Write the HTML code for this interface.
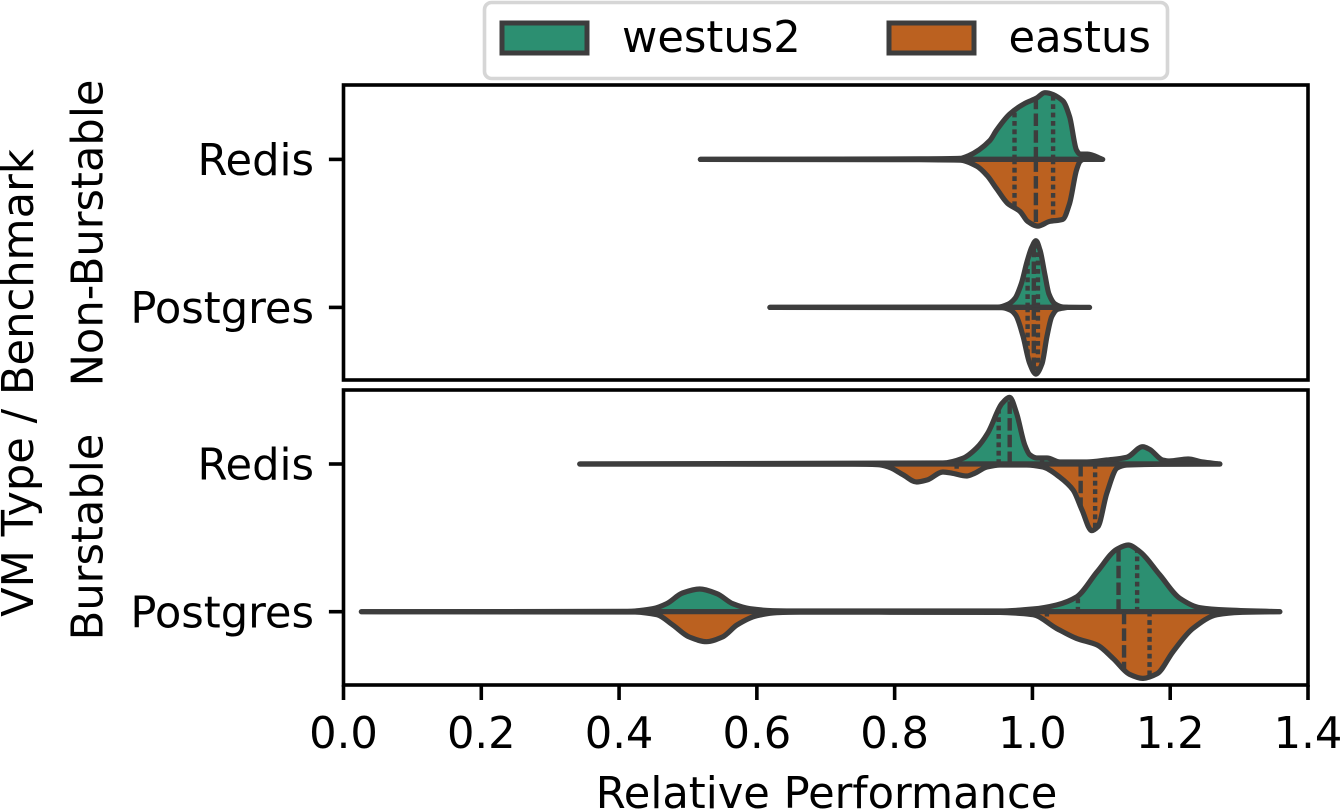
<!DOCTYPE html>
<html lang="en">
<head>
<meta charset="utf-8">
<title>Relative Performance violin chart</title>
<style>
html,body{margin:0;padding:0;background:#fff;width:1341px;height:809px;overflow:hidden}
svg{display:block;font-family:"DejaVu Sans","Liberation Sans",sans-serif;fill:#000}
text{font-size:43.2px}
</style>
</head>
<body>
<svg id="chart" xmlns="http://www.w3.org/2000/svg" width="1341" height="809" viewBox="0 0 1341 809">
  <rect x="0" y="0" width="1341" height="809" fill="#fff"/>
  <g id="violins"></g>
  <g id="axes"></g>
  <text x="826.5" y="808" text-anchor="middle">Relative Performance</text>
  <text transform="translate(33 383) rotate(-90)" text-anchor="middle">VM Type / Benchmark</text>
  <text transform="translate(102.7 233) rotate(-90)" text-anchor="middle">Non-Burstable</text>
  <text transform="translate(102.7 537) rotate(-90)" text-anchor="middle">Burstable</text>
  <g>
    <rect x="484.5" y="2.5" width="683" height="76" rx="7" fill="#fff" fill-opacity="0.8" stroke="#d6d6d6" stroke-width="3.6"/>
    <rect x="502" y="23" width="85" height="30" fill="#2c8f71" stroke="#3d3d3d" stroke-width="5"/>
    <text x="622" y="52">westus2</text>
    <rect x="889" y="23" width="85" height="30" fill="#bb6120" stroke="#3d3d3d" stroke-width="5"/>
    <text x="1008.5" y="52">eastus</text>
  </g>
</svg>
<script>
const xTickLabels = ["0.0","0.2","0.4","0.6","0.8","1.0","1.2","1.4"];
const xTickValues = [0,0.2,0.4,0.6,0.8,1.0,1.2,1.4];
const categories = ["Redis","Postgres"];
const regions = ["westus2","eastus"];

const nbRedisWestX = [0.518,0.836,0.895,0.906,0.938,0.948,0.967,0.989,1.006,1.018,1.044,1.054,1.064,1.069,1.080,1.102];
const nbRedisWestD = [0,0.75,1.5,5,28,44,68,84,92,100,88,64,14,8,8,0];
const nbRedisEastX = [0.518,0.836,0.895,0.919,0.934,0.948,0.964,0.982,0.993,1.008,1.025,1.044,1.054,1.064,1.069,1.073];
const nbRedisEastD = [0,0.5,1,10,24,44,66,78,93,100,93,90,66,16,3,0];
const nbRedisWestQ = [0.974,1.005,1.030];
const nbRedisEastQ = [0.974,1.005,1.030];

const nbPostgresWestX = [0.619,0.950,0.965,0.975,0.984,0.992,0.999,1.005,1.011,1.018,1.024,1.033,1.045,1.083];
const nbPostgresWestD = [0,0.5,5,14,36,68,90,100,86,50,20,5,0.5,0];
const nbPostgresEastX = [0.619,0.955,0.968,0.976,0.986,0.996,1.005,1.014,1.021,1.028,1.036,1.050];
const nbPostgresEastD = [0,0.5,4,12,42,84,100,84,44,14,3,0];
const nbPostgresWestQ = [0.993,1.002,1.008];
const nbPostgresEastQ = [0.993,1.002,1.008];

const bRedisWestX = [0.343,0.870,0.899,0.919,0.935,0.956,0.967,0.977,0.989,0.996,1.006,1.021,1.040,1.079,1.108,1.137,1.160,1.170,1.189,1.199,1.226,1.247,1.272];
const bRedisWestD = [0,1.5,8.5,24,46,91,100,76,28,14,9,9,3,3,6,10,26,22,6,4.5,7.5,3,0];
const bRedisEastX = [0.343,0.740,0.775,0.790,0.812,0.832,0.847,0.870,0.884,0.905,0.916,0.934,0.953,0.992,1.015,1.040,1.059,1.072,1.086,1.095,1.108,1.123,1.137,1.185,1.272];
const bRedisEastD = [0,0.3,1,4,16,27,24,12,14,18,14,4.5,1.5,1.5,4.5,20,39,69,100,94,44,6,1.5,0.5,0];
const bRedisWestQ = [0.951,0.967,1.014];
const bRedisEastQ = [0.890,1.070,1.091];

const bPostgresWestX = [0.026,0.412,0.449,0.469,0.492,0.517,0.542,0.565,0.590,0.623,0.662,0.953,1.001,1.035,1.064,1.094,1.123,1.139,1.156,1.185,1.214,1.243,1.282,1.359];
const bPostgresWestD = [0,0.5,4.5,12,28,34,27,12,4.5,1.5,1,1,4,10,22,60,94,100,90,55,20,6,2.5,0];
const bPostgresEastX = [0.026,0.420,0.455,0.478,0.502,0.527,0.550,0.571,0.600,0.629,0.662,0.953,0.982,1.001,1.035,1.064,1.094,1.117,1.141,1.160,1.181,1.204,1.233,1.268,1.301,1.359];
const bPostgresEastD = [0,0.5,4.5,20,38,45,38,20,6,1.5,0.75,1,2.5,4.5,25,40,50,70,94,100,93,60,25,4.5,1,0];
const bPostgresWestQ = [1.066,1.125,1.152];
const bPostgresEastQ = [1.021,1.133,1.170];

const violinRows = [
  {key:'non-burstable-redis',panel:0,cat:0,wx:nbRedisWestX,wd:nbRedisWestD,wq:nbRedisWestQ,ex:nbRedisEastX,ed:nbRedisEastD,eq:nbRedisEastQ},
  {key:'non-burstable-postgres',panel:0,cat:1,wx:nbPostgresWestX,wd:nbPostgresWestD,wq:nbPostgresWestQ,ex:nbPostgresEastX,ed:nbPostgresEastD,eq:nbPostgresEastQ},
  {key:'burstable-redis',panel:1,cat:0,wx:bRedisWestX,wd:bRedisWestD,wq:bRedisWestQ,ex:bRedisEastX,ed:bRedisEastD,eq:bRedisEastQ},
  {key:'burstable-postgres',panel:1,cat:1,wx:bPostgresWestX,wd:bPostgresWestD,wq:bPostgresWestQ,ex:bPostgresEastX,ed:bPostgresEastD,eq:bPostgresEastQ}
];

const NS = 'http://www.w3.org/2000/svg';
const plotLeft = 343.5, plotRight = 1308;
const panelBoxes = [{top:85,bottom:380,first:159.4,step:148},{top:390,bottom:685,first:464,step:147.7}];
const xScale = v => plotLeft + v * (plotRight - plotLeft) / 1.4;
const yScale = (panel, cat) => panelBoxes[panel].first + cat * panelBoxes[panel].step;
const densityScale = d => d * 2 / 3;
const INK = '#3d3d3d';

function make(tag, attrs, parent) {
  const el = document.createElementNS(NS, tag);
  for (const k in attrs) el.setAttribute(k, attrs[k]);
  parent.appendChild(el);
  return el;
}
function densityAt(xs, ds, v) {
  if (v <= xs[0]) return ds[0];
  for (let i = 1; i < xs.length; i++) {
    if (v <= xs[i]) return ds[i-1] + (ds[i]-ds[i-1]) * (v-xs[i-1]) / (xs[i]-xs[i-1]);
  }
  return ds[ds.length-1];
}
/* monotone cubic through the density points, so tails never overshoot the baseline */
function curvePath(xs, ds, base, sign) {
  const px = xs.map(xScale);
  const py = ds.map(d => base + sign * densityScale(d));
  const n = px.length;
  const slope = [];
  for (let i = 0; i < n - 1; i++) slope.push((py[i+1]-py[i]) / (px[i+1]-px[i]));
  const m = [slope[0]];
  for (let i = 1; i < n - 1; i++) {
    if (slope[i-1] * slope[i] <= 0) m.push(0);
    else {
      const h0 = px[i]-px[i-1], h1 = px[i+1]-px[i];
      const w1 = 2*h1 + h0, w2 = h1 + 2*h0;
      m.push((w1 + w2) / (w1/slope[i-1] + w2/slope[i]));
    }
  }
  m.push(slope[n-2]);
  let d = 'M' + px[0].toFixed(1) + ' ' + base.toFixed(1) + 'L' + px[0].toFixed(1) + ' ' + py[0].toFixed(1);
  for (let i = 0; i < n - 1; i++) {
    const h = (px[i+1]-px[i]) / 3;
    d += 'C' + (px[i]+h).toFixed(1) + ' ' + (py[i]+m[i]*h).toFixed(1) + ' ' + (px[i+1]-h).toFixed(1) + ' ' + (py[i+1]-m[i+1]*h).toFixed(1) + ' ' + px[i+1].toFixed(1) + ' ' + py[i+1].toFixed(1);
  }
  return d + 'Z';
}

const violinLayer = document.getElementById('violins');
violinRows.forEach(row => {
  const base = yScale(row.panel, row.cat);
  [[row.wx,row.wd,row.wq,-1,'#2c8f71',regions[0]],[row.ex,row.ed,row.eq,1,'#bb6120',regions[1]]].forEach(s => {
    const xs = s[0], ds = s[1], qs = s[2], sign = s[3], fill = s[4], region = s[5];
    const path = make('path', {d:curvePath(xs, ds, base, sign), fill:fill, stroke:INK, 'stroke-width':5.2, 'stroke-linejoin':'round', 'stroke-linecap':'round'}, violinLayer);
    
    
    qs.forEach((q, i) => {
      const h = densityScale(densityAt(xs, ds, q));
      const line = make('line', {x1:xScale(q), x2:xScale(q), y1:base, y2:base + sign*h, stroke:INK, 'stroke-width':4.4, 'stroke-dasharray': i === 1 ? '12.5 4.2' : '4.8 3.6'}, violinLayer);
      
      
    });
  });
});

const axesLayer = document.getElementById('axes');
panelBoxes.forEach((b, p) => {
  const frame = make('rect', {x:plotLeft, y:b.top, width:plotRight-plotLeft, height:b.bottom-b.top, fill:'none', stroke:'#000', 'stroke-width':3.6}, axesLayer);
  
  
  categories.forEach((c, i) => {
    const y = yScale(p, i);
    const tick = make('line', {x1:plotLeft-14.6, x2:plotLeft, y1:y, y2:y, stroke:'#000', 'stroke-width':3.6}, axesLayer);
    
    
    const label = make('text', {x:314, y:y+15.6, 'text-anchor':'end'}, axesLayer);
    
    
    label.textContent = c;
  });
});
xTickValues.forEach((v, i) => {
  const x = xScale(v);
  const tick = make('line', {x1:x, x2:x, y1:685, y2:700, stroke:'#000', 'stroke-width':3.6}, axesLayer);
  
  
  const label = make('text', {x:x, y:748, 'text-anchor':'middle'}, axesLayer);
  
  
  label.textContent = xTickLabels[i];
});
</script>
</body>
</html>
